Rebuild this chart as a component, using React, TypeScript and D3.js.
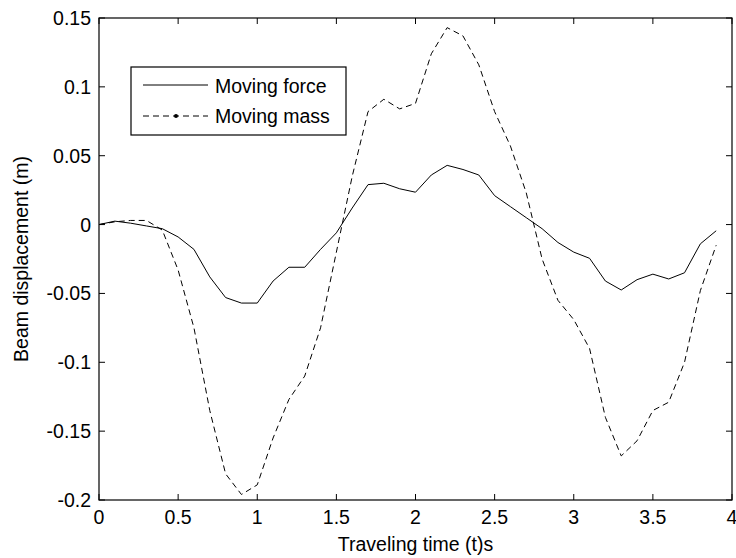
import React from "react";
import * as d3 from "d3";

const times: number[] = d3.range(0, 40).map((i) => +(i * 0.1).toFixed(1));

const movingForce: number[] = [
  0, 0.0025, 0.001, -0.001, -0.003, -0.009, -0.018, -0.038, -0.053, -0.057,
  -0.057, -0.041, -0.031, -0.031, -0.018, -0.006, 0.012, 0.029, 0.030, 0.026,
  0.0235, 0.036, 0.043, 0.040, 0.036, 0.021, 0.013, 0.005, -0.003, -0.013,
  -0.020, -0.0245, -0.041, -0.0475, -0.040, -0.036, -0.0395, -0.035, -0.014, -0.0045,
];

const movingMass: number[] = [
  0, 0.002, 0.003, 0.003, -0.004, -0.033, -0.075, -0.135, -0.181, -0.196,
  -0.189, -0.155, -0.127, -0.110, -0.075, -0.020, 0.035, 0.082, 0.091, 0.084,
  0.088, 0.124, 0.143, 0.137, 0.116, 0.082, 0.057, 0.023, -0.025, -0.055,
  -0.069, -0.090, -0.140, -0.168, -0.157, -0.135, -0.129, -0.100, -0.048, -0.015,
];

const xTicks: number[] = [0, 0.5, 1, 1.5, 2, 2.5, 3, 3.5, 4];
const xTickLabels: string[] = ["0", "0.5", "1", "1.5", "2", "2.5", "3", "3.5", "4"];
const yTicks: number[] = [0.15, 0.1, 0.05, 0, -0.05, -0.1, -0.15, -0.2];
const yTickLabels: string[] = ["0.15", "0.1", "0.05", "0", "-0.05", "-0.1", "-0.15", "-0.2"];

const seriesNames: string[] = ["Moving force", "Moving mass"];
const xLabel = "Traveling time (t)s";
const yLabel = "Beam displacement (m)";

const W = 736;
const H = 558;
const left = 99;
const right = 732;
const top = 18;
const bottom = 500;
const FONT = "'Liberation Sans', Arial, Helvetica, sans-serif";
const FS = 19.5;

export default function App() {
  const x = d3.scaleLinear().domain([0, 4]).range([left, right]);
  const y = d3.scaleLinear().domain([-0.2, 0.15]).range([bottom, top]);
  const line = d3
    .line<number>()
    .x((_, i) => x(times[i]))
    .y((d) => y(d));

  const tickLen = 6;

  return (
    <div style={{ position: "absolute", left: 0, top: 0 }}>
      <svg width={W} height={H} style={{ display: "block", background: "#fff" }}>
        <rect x={0} y={0} width={W} height={H} fill="#fff" />
        {/* series */}
        <path d={line(movingForce) || ""} fill="none" stroke="#000" strokeWidth={1} />
        <path d={line(movingMass) || ""} fill="none" stroke="#000" strokeWidth={1} strokeDasharray="6,4" />

        {/* ticks */}
        {xTicks.map((t, i) => (
          <g key={"xt" + i}>
            <line x1={x(t)} x2={x(t)} y1={bottom} y2={bottom - tickLen} stroke="#000" />
            <line x1={x(t)} x2={x(t)} y1={top} y2={top + tickLen} stroke="#000" />
            <text x={x(t)} y={524} textAnchor="middle" fontFamily={FONT} fontSize={FS} fill="#000">
              {xTickLabels[i]}
            </text>
          </g>
        ))}
        {yTicks.map((t, i) => (
          <g key={"yt" + i}>
            <line x1={left} x2={left + tickLen} y1={y(t)} y2={y(t)} stroke="#000" />
            <line x1={right} x2={right - tickLen} y1={y(t)} y2={y(t)} stroke="#000" />
            <text x={left - 8} y={y(t) + 7} textAnchor="end" fontFamily={FONT} fontSize={FS} fill="#000">
              {yTickLabels[i]}
            </text>
          </g>
        ))}

        {/* box */}
        <rect x={left} y={top} width={right - left} height={bottom - top} fill="none" stroke="#000" strokeWidth={1.2} />

        {/* axis labels */}
        <text x={(left + right) / 2} y={551} textAnchor="middle" fontFamily={FONT} fontSize={FS} fill="#000">
          {xLabel}
        </text>
        <text
          transform={`translate(28,${(top + bottom) / 2}) rotate(-90)`}
          textAnchor="middle"
          fontFamily={FONT}
          fontSize={FS}
          fill="#000"
        >
          {yLabel}
        </text>

        {/* legend */}
        <g>
          <rect x={131} y={67} width={215} height={68} fill="#fff" stroke="#000" strokeWidth={1.2} />
          <line x1={143} x2={208} y1={85} y2={85} stroke="#000" strokeWidth={1} />
          <text x={215} y={93} fontFamily={FONT} fontSize={FS} fill="#000">
            {seriesNames[0]}
          </text>
          <line x1={143} x2={208} y1={116} y2={116} stroke="#000" strokeWidth={1} strokeDasharray="6,4" />
          <circle cx={176} cy={116} r={2} fill="#000" />
          <text x={215} y={123} fontFamily={FONT} fontSize={FS} fill="#000">
            {seriesNames[1]}
          </text>
        </g>
      </svg>
    </div>
  );
}
